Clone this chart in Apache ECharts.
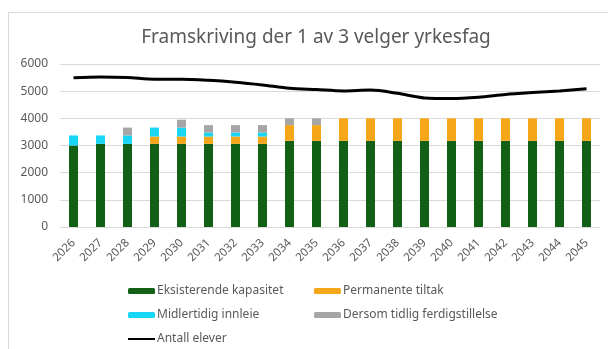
<!DOCTYPE html>
<html>
<head>
<meta charset="utf-8">
<script src="https://cdn.jsdelivr.net/npm/echarts@6/dist/echarts.min.js"></script>
<style>
  html, body { margin: 0; padding: 0; background: #fff; }
  #chart { width: 608px; height: 349px; }
</style>
</head>
<body>
<div id="chart"></div>
<script>
// Years on the category axis
const years = ['2026','2027','2028','2029','2030','2031','2032','2033','2034','2035',
               '2036','2037','2038','2039','2040','2041','2042','2043','2044','2045'];

// Stacked capacity components (student places)
const eksisterende = [3000,3060,3060,3060,3060,3060,3060,3060,3170,3170,
                      3170,3170,3170,3170,3170,3170,3170,3170,3170,3170];
const permanente   = [0,0,0,270,270,270,270,270,580,580,
                      830,830,830,830,830,830,830,830,830,830];
const midlertidig  = [370,310,310,330,330,150,150,150,0,0,
                      0,0,0,0,0,0,0,0,0,0];
const dersomTidlig = [0,0,290,0,290,270,270,270,250,250,
                      0,0,0,0,0,0,0,0,0,0];

// Projected number of pupils
const antallElever = [5490,5520,5500,5440,5440,5400,5330,5230,5110,5060,
                      5010,5040,4920,4750,4730,4780,4880,4950,5010,5090];

const yTicks = { min: 0, max: 6000, interval: 1000 };

const textColor = '#595959';
const font = 'Noto Sans';

const legendText = { fontFamily: font, fontSize: 12, color: textColor, padding: [0, 0, 0, -3] };

const chart = echarts.init(document.getElementById('chart'), null, { renderer: 'canvas' });

chart.setOption({
  animation: false,
  backgroundColor: '#fff',
  textStyle: { fontFamily: font },
  graphic: [{
    type: 'rect',
    shape: { x: 8.5, y: 12.5, width: 700, height: 500 },
    style: { fill: 'none', stroke: '#d9d9d9', lineWidth: 1 },
    silent: true
  }],
  title: {
    text: 'Framskriving der 1 av 3 velger yrkesfag',
    left: 311,
    textAlign: 'center',
    top: 23,
    textStyle: { fontFamily: font, fontSize: 19, fontWeight: 'normal', color: textColor }
  },
  grid: { left: 60, right: 8, top: 64, bottom: 122, containLabel: false },
  legend: [{
    orient: 'vertical',
    left: 127,
    top: 285,
    padding: 0,
    itemWidth: 27,
    itemHeight: 6,
    itemGap: 12,
    textStyle: legendText,
    data: ['Eksisterende kapasitet', 'Midlertidig innleie',
           { name: 'Antall elever', itemStyle: { opacity: 0 } }]
  }, {
    orient: 'vertical',
    left: 314,
    top: 285,
    padding: 0,
    itemWidth: 27,
    itemHeight: 6,
    itemGap: 12,
    textStyle: legendText,
    data: ['Permanente tiltak', 'Dersom tidlig ferdigstillelse']
  }],
  xAxis: {
    type: 'category',
    data: years,
    axisLine: { lineStyle: { color: '#d9d9d9' } },
    axisTick: { show: false },
    axisLabel: { rotate: 45, fontSize: 11.5, color: textColor, margin: 14, interval: 0 }
  },
  yAxis: {
    type: 'value',
    min: yTicks.min,
    max: yTicks.max,
    interval: yTicks.interval,
    axisLine: { show: false },
    axisTick: { show: false },
    axisLabel: { fontSize: 12, color: textColor, margin: 12, formatter: v => String(v) },
    splitLine: { lineStyle: { color: '#d9d9d9', width: 1 } }
  },
  series: [
    { name: 'Eksisterende kapasitet', type: 'bar', stack: 'kap', barWidth: 9,
      itemStyle: { color: '#125f16' }, data: eksisterende },
    { name: 'Permanente tiltak', type: 'bar', stack: 'kap', barWidth: 9,
      itemStyle: { color: '#f6a619' }, data: permanente },
    { name: 'Midlertidig innleie', type: 'bar', stack: 'kap', barWidth: 9,
      itemStyle: { color: '#19d6f7' }, data: midlertidig },
    { name: 'Dersom tidlig ferdigstillelse', type: 'bar', stack: 'kap', barWidth: 9,
      itemStyle: { color: '#a6a6a6' }, data: dersomTidlig },
    { name: 'Antall elever', type: 'line', smooth: 0.3, symbol: 'none', showSymbol: false,
      lineStyle: { color: '#000', width: 3 }, itemStyle: { color: '#000' }, data: antallElever }
  ]
});
</script>
</body>
</html>
